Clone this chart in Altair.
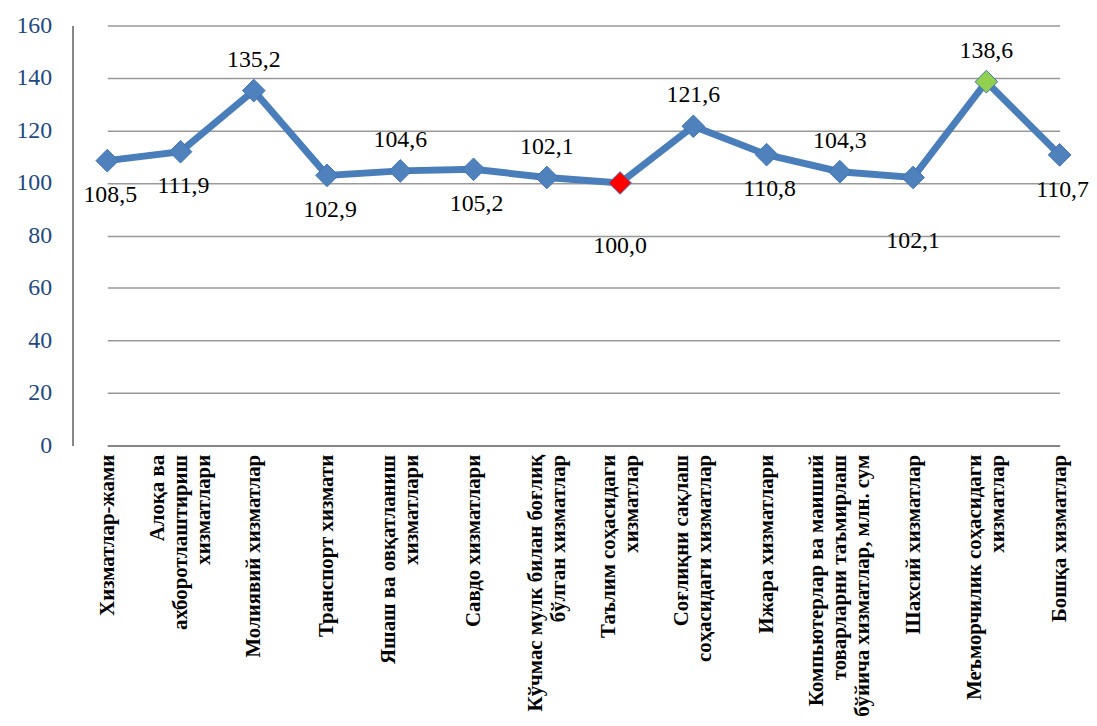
import altair as alt
import pandas as pd

categories = [
    "Хизматлар-жами",
    "Алоқа ва\nахборотлаштириш\nхизматлари",
    "Молиявий хизматлар",
    "Транспорт хизмати",
    "Яшаш ва овқатланиш\nхизматлари",
    "Савдо хизматлари",
    "Кўчмас мулк билан боғлиқ\nбўлган хизматлар",
    "Таълим соҳасидаги\nхизматлар",
    "Соғлиқни сақлаш\nсоҳасидаги хизматлар",
    "Ижара хизматлари",
    "Компьютерлар ва маиший\nтоварларни таъмирлаш\nбўйича хизматлар, млн. сум",
    "Шахсий хизматлар",
    "Меъморчилик соҳасидаги\nхизматлар",
    "Бошқа хизматлар",
]
values = [108.5, 111.9, 135.2, 102.9, 104.6, 105.2, 102.1, 100.0, 121.6, 110.8, 104.3, 102.1, 138.6, 110.7]
label_side = ["below", "below", "above", "below", "above", "below", "above",
              "far", "above", "below", "above", "far", "above", "below"]
highlight = {7: "#FF0000", 12: "#92D050"}

BLUE_LINE = "#4A7EBB"
BLUE_MARK = "#4F81BD"
SERIF = "Liberation Serif"
LH = 23

df = pd.DataFrame({
    "cat": categories,
    "value": values,
    "label": [f"{v:.1f}".replace(".", ",") for v in values],
    "side": label_side,
    "fill": [highlight.get(i, BLUE_MARK) for i in range(len(values))],
})

xscale = alt.Scale(domain=categories, range=[35, 994.4], padding=0)
yscale = alt.Scale(domain=[0, 160])

x = alt.X("cat:O", scale=xscale, sort=categories, title=None,
          axis=alt.Axis(labelAngle=270, labelFont=SERIF, labelFontWeight="bold",
                        labelFontSize=21, labelColor="#000000", labelLineHeight=LH,
                        labelExpr="split(datum.label, '\\n')", ticks=False, labelPadding=9,
                        labelOffset=alt.ExprRef(expr=f"-(length(split(datum.label, '\\n')) - 1) * {LH} / 2"),
                        domainColor="#868686", domainWidth=2, grid=False, labelLimit=400))
y = alt.Y("value:Q", scale=yscale, title=None,
          axis=alt.Axis(values=[0, 20, 40, 60, 80, 100, 120, 140, 160], labelFont=SERIF,
                        labelFontWeight="normal",
                        labelFontSize=24, labelColor="#1F497D", ticks=False, labelPadding=21,
                        domainColor="#868686", domainWidth=2, gridColor="#999999", gridWidth=1.5))

base = alt.Chart(df)

line = base.mark_line(color=BLUE_LINE, strokeWidth=7).encode(x=x, y=y)
points = base.mark_point(shape="diamond", size=520, filled=True, opacity=1,
                         stroke="#3F73B0", strokeWidth=1).encode(
    x=alt.X("cat:O", scale=xscale, sort=categories),
    y=alt.Y("value:Q", scale=yscale),
    fill=alt.Fill("fill:N", scale=None),
)

def labels(side, dy, dx=0):
    return base.transform_filter(alt.datum.side == side).mark_text(
        font=SERIF, fontSize=24, fontWeight="normal", color="#000000", dy=dy, dx=dx, baseline="middle"
    ).encode(
        x=alt.X("cat:O", scale=xscale, sort=categories),
        y=alt.Y("value:Q", scale=yscale),
        text="label:N",
    )

chart = alt.layer(
    line, points,
    labels("above", -31), labels("below", 35, 3), labels("far", 64),
).properties(
    width=1016, height=423,
    autosize=alt.AutoSizeParams(type="none"),
    padding={"left": 65, "top": 15, "right": 8, "bottom": 275},
).configure_view(stroke=None)

chart.save("out.html", embed_options={"renderer": "svg", "actions": False})
